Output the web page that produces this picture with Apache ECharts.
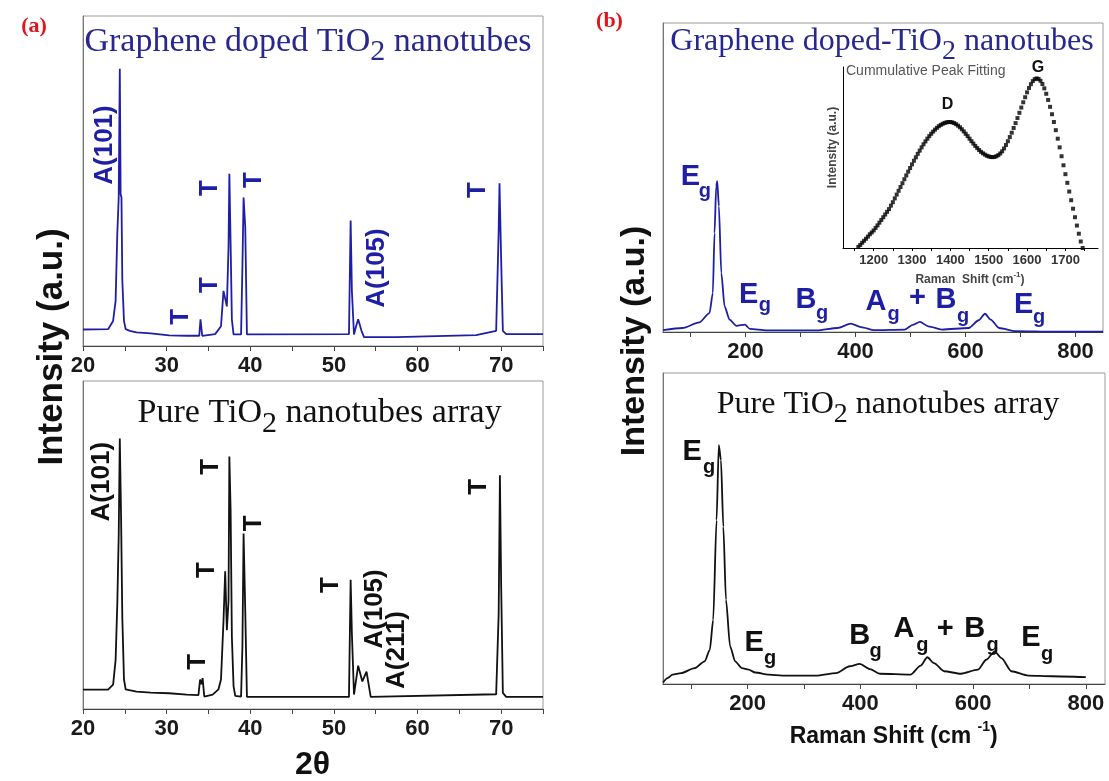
<!DOCTYPE html>
<html>
<head>
<meta charset="utf-8">
<script src="https://cdn.jsdelivr.net/npm/echarts@6/dist/echarts.min.js"></script>
<style>
  html, body { margin: 0; padding: 0; background: #fff; }
  #chart { width: 1109px; height: 781px; }
</style>
</head>
<body>
<div id="chart"></div>
<script>
// (a) XRD, [2theta, intensity %]
const xrdDoped = [
  [20, 5.0], [23.0, 5.1], [23.6, 7.6], [23.9, 13.7], [24.1, 34], [24.27, 45], [24.4, 84], [24.5, 46],
  [24.6, 45], [24.7, 20], [24.9, 7.6], [25.1, 5.1], [25.6, 4.6], [26.4, 4.1], [28.1, 3.8], [30.3, 3.2],
  [32.4, 3.1], [33.9, 3.1], [34.05, 8.1], [34.25, 3.1], [35.8, 3.6], [36.5, 6], [36.8, 16.7], [37.0, 17.2],
  [37.2, 12], [37.4, 30], [37.5, 52.2], [37.65, 31], [37.8, 8], [38.0, 3.5], [38.9, 3.5], [39.06, 24],
  [39.2, 45], [39.4, 36], [39.6, 3.5], [51.8, 3.6], [52.0, 38], [52.15, 16.7], [52.4, 3.5], [52.6, 5.5],
  [52.9, 8.1], [53.3, 4.6], [53.6, 2.7], [57.5, 2.7], [57.6, 3.3], [67.0, 3.3], [69.4, 4.6], [69.7, 35],
  [69.8, 49.3], [70.0, 25.8], [70.2, 4.6], [70.6, 3.6], [75, 3.6]
];
const xrdPure = [
  [20, 5.9], [23.0, 5.9], [23.6, 7.4], [23.9, 15], [24.1, 32], [24.27, 53], [24.4, 82.5], [24.55, 59],
  [24.7, 28], [24.9, 9], [25.1, 6.0], [26.4, 5.3], [28.1, 5.0], [30.3, 4.8], [32.4, 4.4], [33.8, 4.2],
  [34.0, 9.0], [34.15, 7.5], [34.3, 9.4], [34.5, 3.8], [35.5, 4.4], [36.2, 6], [36.5, 9], [36.8, 27],
  [37.0, 42], [37.2, 24], [37.4, 33], [37.5, 77], [37.65, 60.6], [37.8, 22], [38.0, 7], [38.2, 4],
  [38.9, 3.8], [39.06, 19], [39.2, 53.5], [39.4, 30], [39.6, 3.7], [51.8, 3.7], [52.0, 39.4], [52.15, 23],
  [52.4, 4.4], [52.9, 13.2], [53.4, 8.4], [53.9, 11.4], [54.4, 3.7], [69.4, 4.5], [69.7, 29], [69.85, 71.3],
  [70.0, 37.3], [70.2, 4.9], [70.6, 3.7], [75, 3.7]
];

// (b) Raman, [shift cm-1, intensity %]
const ramanDoped = [
  [50, 0.6], [85.5, 1.3], [116, 3.1], [134.5, 6.1], [140.6, 12.6], [143.7, 32], [146.7, 47.1], [148.6, 48.8],
  [151.6, 40.7], [156, 19.1], [162, 8.3], [171, 4.0], [183.5, 2.0], [198.8, 2.4], [208, 1.0], [238.6, 0.5],
  [330, 0.5], [367, 1.3], [391.7, 2.7], [410, 1.6], [434.5, 0.6], [489.6, 0.8], [505, 2.4], [517, 3.3],
  [532.5, 1.8], [557, 0.8], [606, 1.3], [624, 3.8], [635.4, 5.9], [645.8, 4.0], [661, 1.3], [691.7, 0.3],
  [759, 0.1], [850, 0.1]
];
const ramanPure = [
  [50, 0.5], [58, 1.9], [67, 3.0], [82, 3.5], [106, 5.1], [124, 7.3], [133, 11], [139, 20.6],
  [145, 52.7], [149, 76.8], [152.8, 72], [157, 50.6], [161.7, 27.1], [169, 12.1], [178, 7.3], [190, 5.1],
  [201.8, 4.6], [213.8, 3.7], [237.7, 3.0], [261.6, 2.7], [321.4, 2.7], [357, 3.5], [381, 5.7], [399, 6.5],
  [417, 4.8], [435, 3.3], [489, 3.0], [507, 5.9], [518.8, 8.6], [530.7, 6.7], [548.7, 4.1], [578.6, 3.3],
  [608.5, 4.6], [623.4, 7.8], [638.4, 10.5], [650.4, 8.3], [668, 4.1], [698, 2.7], [740, 2.5], [800, 2.2]
];

// inset: cumulative peak fit (D and G bands)
const insetShift = [1160,1165,1170,1175,1180,1185,1190,1195,1200,1205,1210,1215,1220,1225,1230,1235,1240,1245,1250,1255,
  1260,1265,1270,1275,1280,1285,1290,1295,1300,1305,1310,1315,1320,1325,1330,1335,1340,1345,1350,1355,
  1360,1365,1370,1375,1380,1385,1390,1395,1400,1405,1410,1415,1420,1425,1430,1435,1440,1445,1450,1455,
  1460,1465,1470,1475,1480,1485,1490,1495,1500,1505,1510,1515,1520,1525,1530,1535,1540,1545,1550,1555,
  1560,1565,1570,1575,1580,1585,1590,1595,1600,1605,1610,1615,1620,1625,1630,1635,1640,1645,1650,1655,
  1660,1665,1670,1675,1680,1685,1690,1695,1700,1705,1710,1715,1720,1725,1730,1735,1740,1745];
const insetIntensity = [0.6,1.7,2.9,4.0,5.1,6.3,7.6,8.6,9.7,11.1,12.5,14.0,15.5,17.0,18.5,20.0,21.5,23.4,25.3,27.4,
  29.5,31.6,33.7,35.8,38.0,40.1,42.2,44.2,46.2,48.2,50.1,52.0,53.8,55.6,57.3,58.9,60.4,61.8,63.1,64.3,
  65.4,66.4,67.3,68.0,68.6,69.1,69.4,69.6,69.6,69.4,69.0,68.4,67.6,66.7,65.6,64.4,63.1,61.8,60.4,59.0,
  57.7,56.4,55.2,54.1,53.1,52.3,51.6,51.0,50.6,50.3,50.2,50.3,50.7,51.3,52.2,53.4,55.0,56.9,59.0,61.3,
  63.7,66.3,69.0,71.8,74.7,77.6,80.5,83.3,86.0,88.4,90.5,92.2,93.3,93.7,93.4,92.4,90.6,88.2,85.2,81.8,
  78.0,73.9,69.6,65.1,60.4,55.6,50.7,45.7,40.8,36.0,31.2,26.4,21.7,17.0,12.4,7.9,3.6,0];

// ticks and tick labels
const xrdTicks = [20, 25, 30, 35, 40, 45, 50, 55, 60, 65, 70, 75];
const xrdLabels = [20, 30, 40, 50, 60, 70];
const ramanTicks = [100, 200, 300, 400, 500, 600, 700, 800];
const ramanLabels = [200, 400, 600, 800];
const insetTicks = [1150, 1200, 1250, 1300, 1350, 1400, 1450, 1500, 1550, 1600, 1650, 1700, 1750];
const insetLabels = [1200, 1300, 1400, 1500, 1600, 1700];

const SANS = "'Liberation Sans', Arial, sans-serif";
const SERIF = "'Liberation Serif', 'Times New Roman', serif";
const BLUE = '#1f1fa5';
const TITLE_BLUE = '#27278f';

const chart = echarts.init(document.getElementById('chart'));

// measure text so sub/superscripts can sit next to the main text
const ctx = document.createElement('canvas').getContext('2d');
function partsLine(parts, cx, cy, color, family) {
  const widths = parts.map(p => {
    ctx.font = (p.weight || 'normal') + ' ' + p.size + 'px ' + family;
    return ctx.measureText(p.t).width;
  });
  let x = cx - widths.reduce((a, b) => a + b, 0) / 2;
  return parts.map((p, i) => {
    const el = {
      type: 'text', x: x, y: cy + (p.dy || 0), z: 50,
      style: { text: p.t, fontSize: p.size, fontWeight: p.weight || 'normal', fontFamily: family,
               fill: color, align: 'left', verticalAlign: 'middle' }
    };
    x += widths[i];
    return el;
  });
}
function txt(t, x, y, size, color, opts) {
  opts = opts || {};
  return {
    type: 'text', x: x, y: y, z: 50, rotation: opts.rot ? Math.PI / 2 : 0,
    style: { text: t, fontSize: size, fontWeight: opts.weight || 'bold', fontFamily: opts.family || SANS,
             fill: color, align: opts.align || 'center', verticalAlign: 'middle' }
  };
}

// peak annotations
const xrdDopedNotes = [['A(101)', 104.5, 145], ['T', 180.4, 316.7], ['T', 210, 285], ['T', 210, 188],
  ['T', 254.3, 180], ['A(105)', 376.8, 268], ['T', 477.5, 190]];
const xrdPureNotes = [['A(101)', 101.8, 481.7], ['T', 197.5, 661.7], ['T', 207, 570], ['T', 210.7, 466.7],
  ['T', 254.3, 523.3], ['T', 330.4, 585], ['A(105)', 375, 609], ['A(211)', 397, 650], ['T', 478.6, 486.7]];
// [main letter, x, y, subscript x, subscript y]
const ramanDopedNotes = [['E', 690.5, 176.7, 704.8, 195.5], ['E', 748.7, 295, 764.8, 309.2], ['B', 806, 300, 822, 317.5],
  ['A', 876, 301.7, 893.7, 318.3], ['+', 917.4, 298.3], ['B', 946, 300, 963, 320], ['E', 1023.6, 305, 1039, 321.7]];
const ramanPureNotes = [['E', 692.2, 451.7, 709, 471.7], ['E', 754.2, 642.5, 770, 662.5], ['B', 859.8, 635.8, 875.5, 655.5],
  ['A', 904, 629.2, 922.3, 649.2], ['+', 945.2, 629.2], ['B', 974.8, 629.2, 992.5, 649.2], ['E', 1031, 638.3, 1047, 658.3]];

const graphics = [];
xrdDopedNotes.forEach(n => graphics.push(txt(n[0], n[1], n[2], 26, BLUE, { rot: true })));
xrdPureNotes.forEach(n => graphics.push(txt(n[0], n[1], n[2], 26, '#111', { rot: true })));
function ramanNotes(list, color) {
  list.forEach(n => {
    graphics.push(txt(n[0], n[1], n[2], 29, color));
    if (n.length > 3) graphics.push(txt('g', n[3], n[4] - 3.8, 20, color));
  });
}
ramanNotes(ramanDopedNotes, BLUE);
ramanNotes(ramanPureNotes, '#111');

// titles with subscript 2
graphics.push(...partsLine([{ t: 'Graphene doped TiO', size: 34 }, { t: '2', size: 30, dy: 10.5 }, { t: ' nanotubes', size: 34 }],
  308, 41.7, TITLE_BLUE, SERIF));
graphics.push(...partsLine([{ t: 'Pure TiO', size: 34 }, { t: '2', size: 30, dy: 10.5 }, { t: ' nanotubes array', size: 34 }],
  319.6, 413.3, '#111', SERIF));
graphics.push(...partsLine([{ t: 'Graphene doped-TiO', size: 32 }, { t: '2', size: 28, dy: 10 }, { t: ' nanotubes', size: 32 }],
  882, 41.7, TITLE_BLUE, SERIF));
graphics.push(...partsLine([{ t: 'Pure TiO', size: 32 }, { t: '2', size: 28, dy: 10 }, { t: ' nanotubes array', size: 32 }],
  888, 404.2, '#111', SERIF));

// panel letters and axis names
graphics.push(txt('(a)', 34, 26.7, 22, '#e3141c', { family: SERIF }));
graphics.push(txt('(b)', 609.5, 21.7, 22, '#e3141c', { family: SERIF }));
graphics.push(txt('Intensity (a.u.)', 52, 347, 35, '#111', { rot: true }));
graphics.push(txt('Intensity (a.u.)', 635, 341, 34, '#111', { rot: true }));
graphics.push(txt('2\u03b8', 312.6, 765, 32, '#111'));
graphics.push(...partsLine([{ t: 'Raman Shift (cm ', size: 23, weight: 'bold' }, { t: '-1', size: 14, weight: 'bold', dy: -9 },
  { t: ')', size: 23, weight: 'bold' }], 893.7, 736.5, '#111', SANS));

// inset texts
graphics.push(txt('Cummulative Peak Fitting', 846, 71, 14, '#555', { weight: 'normal', align: 'left' }));
graphics.push(txt('G', 1038, 68, 16, '#111'));
graphics.push(txt('D', 947.5, 105, 16, '#111'));
graphics.push(...partsLine([{ t: 'Raman  Shift (cm', size: 12, weight: 'bold' }, { t: '-1', size: 8, weight: 'bold', dy: -5 },
  { t: ')', size: 12, weight: 'bold' }], 970, 280, '#444', SANS));
graphics.push(txt('Intensity (a.u.)', 833, 147.5, 12, '#444', { rot: true }));

function mainX(grid, min, max, ticks, labels) {
  return {
    type: 'value', gridIndex: grid, min: min, max: max,
    axisLine: { onZero: false, lineStyle: { color: '#444', width: 1 } },
    axisTick: { show: true, length: 5, customValues: ticks, lineStyle: { color: '#444' } },
    axisLabel: { customValues: labels, margin: 9, fontSize: 22, fontWeight: 'bold', fontFamily: SANS, color: '#1a1a1a',
                 formatter: v => String(v) },
    splitLine: { show: false }
  };
}
function plainY(grid, color) {
  return {
    type: 'value', gridIndex: grid, min: 0, max: 100,
    axisLine: { show: true, lineStyle: { color: color, width: 1 } },
    axisTick: { show: false }, axisLabel: { show: false }, splitLine: { show: false }
  };
}
const frame = { show: true, borderColor: '#9a9a9a', borderWidth: 1, backgroundColor: 'transparent' };

const option = {
  animation: false,
  backgroundColor: '#fff',
  grid: [
    Object.assign({ left: 83, top: 16, width: 460, height: 330 }, frame),
    Object.assign({ left: 83, top: 381, width: 460, height: 328 }, frame),
    Object.assign({ left: 663, top: 23, width: 440, height: 309 }, frame),
    Object.assign({ left: 663, top: 373, width: 442, height: 311 }, frame),
    { left: 843, top: 67, width: 255, height: 181, show: false }
  ],
  xAxis: [
    mainX(0, 20, 75, xrdTicks, xrdLabels),
    mainX(1, 20, 75, xrdTicks, xrdLabels),
    mainX(2, 50, 850, ramanTicks, ramanLabels),
    mainX(3, 50, 834, ramanTicks, ramanLabels),
    {
      type: 'value', gridIndex: 4, min: 1120, max: 1785,
      axisLine: { onZero: false, lineStyle: { color: '#000', width: 1 } },
      axisTick: { show: true, length: 3, customValues: insetTicks, lineStyle: { color: '#000' } },
      axisLabel: { customValues: insetLabels, margin: 6, fontSize: 13, fontWeight: 'bold', fontFamily: SANS, color: '#333',
                   formatter: v => String(v) },
      splitLine: { show: false }
    }
  ],
  yAxis: [plainY(0, '#777'), plainY(1, '#777'), plainY(2, '#777'), plainY(3, '#777'), plainY(4, '#000')],
  series: [
    { type: 'line', xAxisIndex: 0, yAxisIndex: 0, data: xrdDoped, showSymbol: false,
      lineStyle: { color: BLUE, width: 1.8 } },
    { type: 'line', xAxisIndex: 1, yAxisIndex: 1, data: xrdPure, showSymbol: false,
      lineStyle: { color: '#111', width: 1.8 } },
    { type: 'line', xAxisIndex: 2, yAxisIndex: 2, data: ramanDoped, showSymbol: false, smooth: 0.25,
      smoothMonotone: 'x', lineStyle: { color: BLUE, width: 1.8 } },
    { type: 'line', xAxisIndex: 3, yAxisIndex: 3, data: ramanPure, showSymbol: false, smooth: 0.25,
      smoothMonotone: 'x', lineStyle: { color: '#111', width: 1.8 } },
    { type: 'scatter', xAxisIndex: 4, yAxisIndex: 4, symbol: 'rect', symbolSize: 4,
      data: insetShift.map((s, i) => [s, insetIntensity[i]]), itemStyle: { color: '#000' } }
  ],
  graphic: graphics
};

chart.setOption(option);
</script>
</body>
</html>
